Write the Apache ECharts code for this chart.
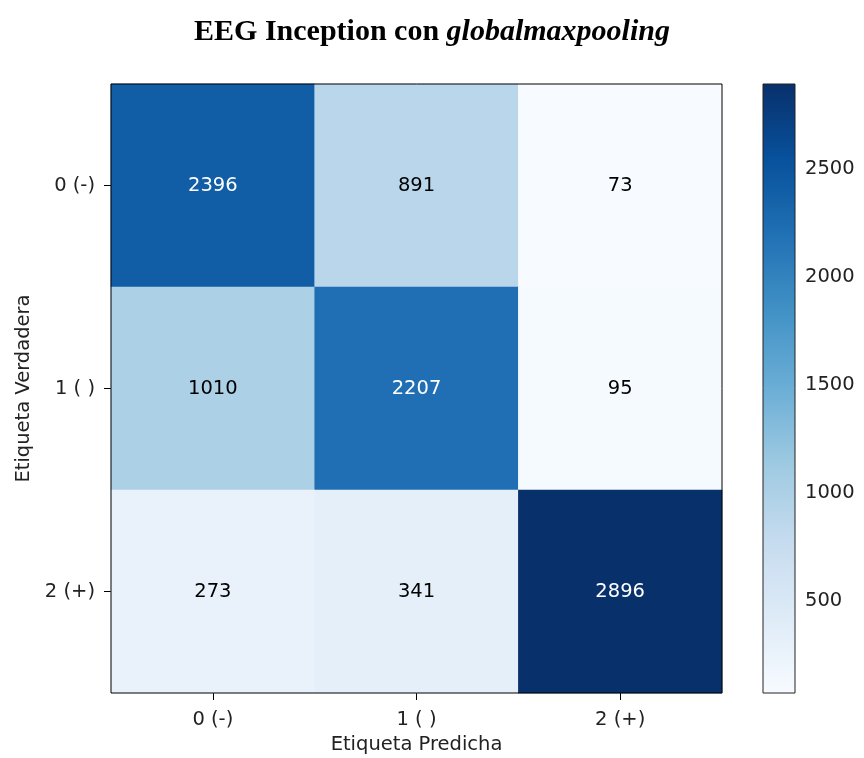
<!DOCTYPE html>
<html>
<head>
<meta charset="utf-8">
<script src="https://cdn.jsdelivr.net/npm/echarts@6/dist/echarts.min.js"></script>
<style>html,body{margin:0;padding:0;background:#fff}#chart{width:864px;height:758px}</style>
</head>
<body>
<div id="chart"></div>
<script>
// Confusion matrix for the EEG Inception model (rows: true label, cols: predicted label)
const classLabels = ['0 (-)', '1 ( )', '2 (+)'];
const row0 = [2396, 891, 73];
const row1 = [1010, 2207, 95];
const row2 = [273, 341, 2896];
const colorbarTicks = [500, 1000, 1500, 2000, 2500];

const matrix = [row0, row1, row2];
const allValues = matrix.flat();
const vMin = Math.min(...allValues);
const vMax = Math.max(...allValues);
const threshold = vMax / 2;

// matplotlib "Blues" colormap stops
const blues = ['#f7fbff', '#deebf7', '#c6dbef', '#9ecae1', '#6baed6', '#4292c6', '#2171b5', '#08519c', '#08306b'];

const cells = [];
matrix.forEach((row, r) => row.forEach((v, c) => cells.push({
  value: [c, r, v],
  label: { color: v > threshold ? '#ffffff' : '#000000' }
})));

const fontFamily = '"DejaVu Sans", sans-serif';
const fs = 19.5;
const serif = '"Liberation Serif", "Times New Roman", serif';
const chart = echarts.init(document.getElementById('chart'));

chart.setOption({
  animation: false,
  backgroundColor: '#ffffff',
  title: {
    text: '{b|EEG Inception con }{i|globalmaxpooling}',
    left: 'center',
    top: 12,
    textStyle: {
      rich: {
        b: { fontFamily: serif, fontWeight: 'bold', fontSize: 30, color: '#000' },
        i: { fontFamily: serif, fontWeight: 'bold', fontStyle: 'italic', fontSize: 30, color: '#000' }
      }
    }
  },
  grid: [
    { left: 111, top: 84, width: 611, height: 609, outerBoundsMode: 'none', containLabel: false, show: true, borderColor: '#000', borderWidth: 1, backgroundColor: 'transparent', z: 10 },
    { left: 763, top: 84, width: 32, height: 609, outerBoundsMode: 'none', containLabel: false, show: false }
  ],
  xAxis: [
    {
      type: 'category', gridIndex: 0, data: classLabels,
      axisLine: { show: false },
      axisTick: { show: true, alignWithLabel: true, length: 7, lineStyle: { color: '#000' } },
      axisLabel: { fontFamily, fontSize: fs, color: '#222', margin: 17 },
      splitLine: { show: false },
      name: 'Etiqueta Predicha', nameLocation: 'middle', nameGap: 42,
      nameTextStyle: { fontFamily, fontSize: fs, color: '#222' }
    },
    { type: 'value', gridIndex: 1, min: 0, max: 1, show: false }
  ],
  yAxis: [
    {
      type: 'category', gridIndex: 0, data: classLabels, inverse: true,
      axisLine: { show: false },
      axisTick: { show: true, alignWithLabel: true, length: 7, lineStyle: { color: '#000' } },
      axisLabel: { fontFamily, fontSize: fs, color: '#222', margin: 16 },
      splitLine: { show: false },
      name: 'Etiqueta Verdadera', nameLocation: 'middle', nameGap: 77, nameRotate: 90,
      nameTextStyle: { fontFamily, fontSize: fs, color: '#222' }
    },
    {
      type: 'value', gridIndex: 1, min: vMin, max: vMax, position: 'right',
      axisLine: { show: false },
      axisTick: { show: true, length: 6, lineStyle: { color: '#000' }, customValues: colorbarTicks },
      axisLabel: { fontFamily, fontSize: fs, color: '#222', margin: 10, customValues: colorbarTicks, formatter: v => String(v) },
      splitLine: { show: false }
    }
  ],
  visualMap: {
    show: false, type: 'continuous', min: vMin, max: vMax, seriesIndex: 0,
    inRange: { color: blues }
  },
  series: [
    {
      type: 'heatmap', xAxisIndex: 0, yAxisIndex: 0, data: cells,
      label: {
        show: true, fontFamily, fontSize: fs,
        formatter: p => String(p.value[2])
      }
    },
    {
      // colour bar: a gradient rectangle spanning the data extent
      type: 'custom', xAxisIndex: 1, yAxisIndex: 1, data: [[0, vMin, 1, vMax]],
      silent: true,
      renderItem: (params, api) => {
        const p0 = api.coord([api.value(0), api.value(1)]);
        const p1 = api.coord([api.value(2), api.value(3)]);
        return {
          type: 'rect',
          shape: { x: p0[0], y: p1[1], width: p1[0] - p0[0], height: p0[1] - p1[1] },
          style: {
            fill: new echarts.graphic.LinearGradient(0, 1, 0, 0,
              blues.map((c, i) => ({ offset: i / (blues.length - 1), color: c }))),
            stroke: '#222',
            lineWidth: 1
          }
        };
      }
    }
  ]
});
</script>
</body>
</html>
